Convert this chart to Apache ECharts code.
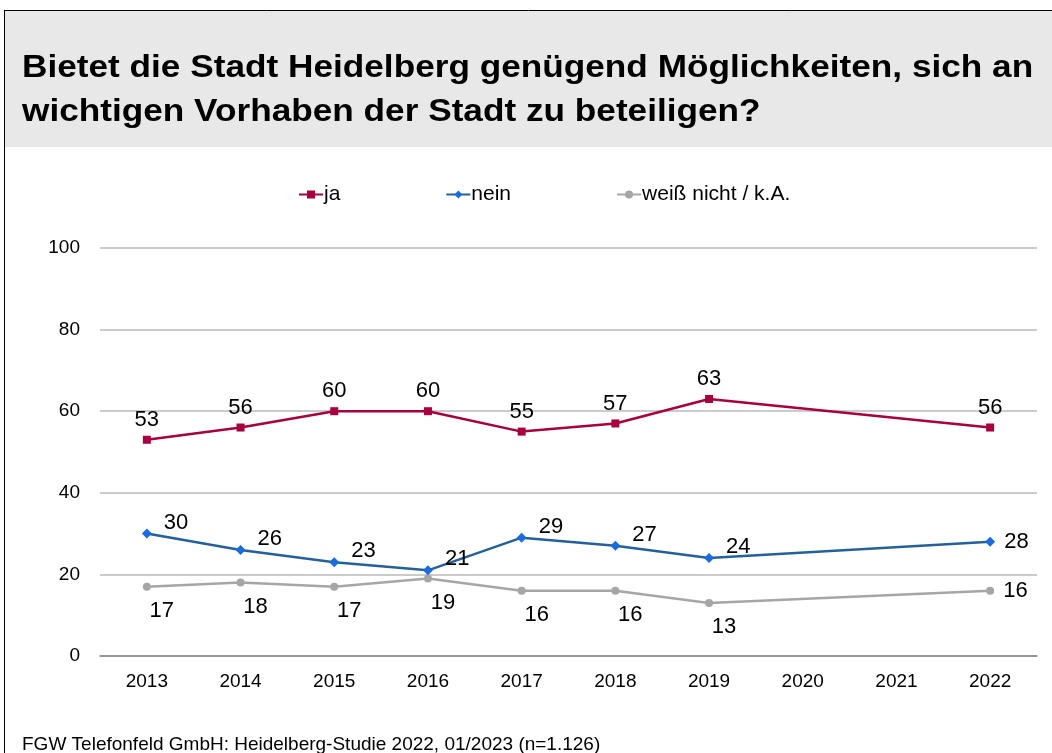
<!DOCTYPE html>
<html>
<head>
<meta charset="utf-8">
<script src="https://cdn.jsdelivr.net/npm/echarts@6/dist/echarts.min.js"></script>
<style>
  html, body { margin: 0; padding: 0; background: #fff; }
  #chart { width: 1052px; height: 753px; }
</style>
</head>
<body>
<div id="chart"></div>
<script>
// Survey years (2020 and 2021 have no survey)
const years = ['2013', '2014', '2015', '2016', '2017', '2018', '2019', '2020', '2021', '2022'];
const jaValues = [53, 56, 60, 60, 55, 57, 63, null, null, 56];
const neinValues = [30, 26, 23, 21, 29, 27, 24, null, null, 28];
const weissNichtValues = [17, 18, 17, 19, 16, 16, 13, null, null, 16];
const seriesNames = ['ja', 'nein', 'weiß nicht / k.A.'];
const yTicks = [0, 20, 40, 60, 80, 100];

const titleText = 'Bietet die Stadt Heidelberg genügend Möglichkeiten, sich an\nwichtigen Vorhaben der Stadt zu beteiligen?';
const sourceText = 'FGW Telefonfeld GmbH: Heidelberg-Studie 2022, 01/2023 (n=1.126)';

const FONT = '"Liberation Sans", Arial, sans-serif';
const lastIdx = years.length - 1;

// Attach per-point label settings; the final year gets its label to the right
function withLabels(values, baseLabel, lastLabel) {
  return values.map((v, i) => {
    if (v === null) return null;
    return { value: v, label: i === lastIdx ? lastLabel : baseLabel };
  });
}

const labelFont = { fontFamily: FONT, fontSize: 22, color: '#000' };

const chart = echarts.init(document.getElementById('chart'), null, { renderer: 'canvas' });
chart.setOption({
  backgroundColor: '#fff',
  animation: false,
  graphic: [
    { type: 'rect', shape: { x: 4, y: 10, width: 1060, height: 137 }, style: { fill: '#e8e8e8' }, silent: true },
    { type: 'line', shape: { x1: 4, y1: 10.5, x2: 1060, y2: 10.5 }, style: { stroke: '#000', lineWidth: 1 } },
    { type: 'line', shape: { x1: 4.5, y1: 10, x2: 4.5, y2: 760 }, style: { stroke: '#000', lineWidth: 1 } },
    {
      type: 'text', x: 22, y: 46, scaleX: 1.1,
      style: { text: titleText, font: 'bold 32px ' + FONT, fill: '#000', lineHeight: 44 }
    },
    {
      type: 'text', x: 22, y: 735,
      style: { text: sourceText, font: '19px ' + FONT, fill: '#000' }
    }
  ],
  legend: {
    top: 179,
    left: 293,
    itemGap: 105,
    itemWidth: 24,
    itemHeight: 10,
    textStyle: { fontFamily: FONT, fontSize: 21, color: '#000', padding: [0, 0, 0, -4] },
    data: seriesNames
  },
  grid: { left: 100, right: 15, top: 248, bottom: 97, containLabel: false },
  xAxis: {
    type: 'category',
    data: years,
    boundaryGap: true,
    axisLine: { show: true, lineStyle: { color: '#868686', width: 1.5 } },
    axisTick: { show: false },
    axisLabel: { fontFamily: FONT, fontSize: 19, color: '#000', margin: 16 }
  },
  yAxis: {
    type: 'value',
    min: yTicks[0],
    max: yTicks[yTicks.length - 1],
    interval: yTicks[1] - yTicks[0],
    axisLine: { show: false },
    axisTick: { show: false },
    splitLine: { lineStyle: { color: '#bababa', width: 1.5 } },
    axisLabel: { fontFamily: FONT, fontSize: 19, color: '#000', margin: 20 }
  },
  series: [
    {
      name: seriesNames[0],
      type: 'line',
      connectNulls: true,
      data: withLabels(jaValues,
        { show: true, position: 'top', distance: 5, ...labelFont },
        { show: true, position: 'top', distance: 5, ...labelFont }),
      symbol: 'rect',
      symbolSize: 8,
      lineStyle: { color: '#a8003f', width: 2.5 },
      itemStyle: { color: '#a8003f' },
      z: 3
    },
    {
      name: seriesNames[1],
      type: 'line',
      connectNulls: true,
      data: withLabels(neinValues,
        { show: true, position: 'right', offset: [7, -11], ...labelFont },
        { show: true, position: 'right', distance: 9, ...labelFont }),
      symbol: 'diamond',
      symbolSize: 10,
      lineStyle: { color: '#24619c', width: 2.5 },
      itemStyle: { color: '#1a6be0' },
      z: 3
    },
    {
      name: seriesNames[2],
      type: 'line',
      connectNulls: true,
      data: withLabels(weissNichtValues,
        { show: true, position: 'bottom', offset: [15, 4], ...labelFont },
        { show: true, position: 'right', distance: 9, ...labelFont }),
      symbol: 'circle',
      symbolSize: 8,
      lineStyle: { color: '#a6a6a6', width: 2.5 },
      itemStyle: { color: '#a6a6a6' },
      z: 2
    }
  ]
});
</script>
</body>
</html>
